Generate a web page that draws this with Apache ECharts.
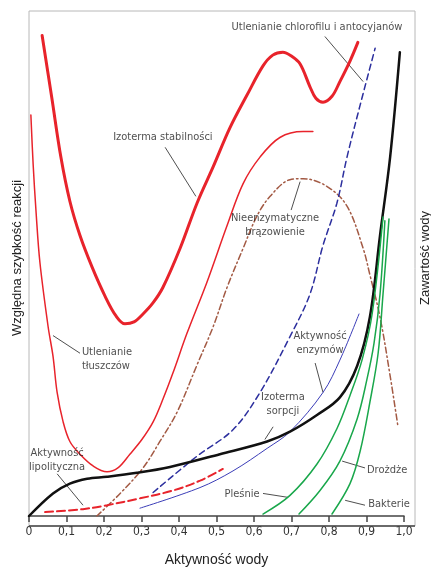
<!DOCTYPE html>
<html><head><meta charset="utf-8">
<script src="https://cdn.jsdelivr.net/npm/echarts@6/dist/echarts.min.js"></script>
<style>html,body{margin:0;padding:0;background:#fff}#c{width:431px;height:572px}</style>
</head><body><div id="c"></div>
<script>
// x: aktywność wody (0..1), y: relative units above the axis (0..515)
const tickLabels = ['0','0,1','0,2','0,3','0,4','0,5','0,6','0,7','0,8','0,9','1,0'];

const chlorophyllOxidation = [[0.035,490],[0.061,426],[0.085,366],[0.109,321],[0.136,286],[0.168,254],[0.203,224],[0.232,204],[0.256,196],[0.280,198],[0.304,206],[0.330,217],[0.357,233],[0.403,273],[0.448,319],[0.491,356],[0.536,396],[0.581,429],[0.624,459],[0.650,470],[0.677,473],[0.700,469],[0.723,461],[0.749,438],[0.765,426],[0.784,422],[0.808,428],[0.829,443],[0.856,464],[0.877,483]];
const fatOxidation = [[0.005,409],[0.011,359],[0.019,309],[0.029,259],[0.051,193],[0.064,163],[0.075,126],[0.091,96],[0.109,76],[0.136,63],[0.171,51],[0.208,45],[0.237,49],[0.269,63],[0.301,78],[0.331,96],[0.357,119],[0.384,146],[0.421,186],[0.475,239],[0.528,296],[0.571,339],[0.616,366],[0.669,386],[0.731,392],[0.757,392]];
const nonEnzymaticBrowning = [[0.181,0],[0.243,23],[0.304,49],[0.349,76],[0.395,106],[0.448,154],[0.491,193],[0.528,233],[0.571,273],[0.608,306],[0.643,326],[0.696,343],[0.731,344],[0.795,336],[0.848,316],[0.891,273],[0.909,246],[0.936,203],[0.963,143],[0.984,91]];
const enzymeActivityDashed = [[0.331,24],[0.448,61],[0.544,88],[0.616,126],[0.696,183],[0.749,226],[0.784,276],[0.821,319],[0.848,366],[0.883,419],[0.923,477]];
const enzymeActivity = [[0.296,8],[0.456,29],[0.544,46],[0.635,69],[0.696,86],[0.784,126],[0.829,159],[0.880,206]];
const lipolyticActivity = [[0.043,4],[0.144,7],[0.208,11],[0.296,18],[0.384,26],[0.456,36],[0.517,48]];
const sorptionIsotherm = [[0,0],[0.064,23],[0.109,33],[0.155,38],[0.208,40],[0.288,44],[0.376,50],[0.509,63],[0.635,76],[0.696,86],[0.768,103],[0.829,121],[0.875,153],[0.909,203],[0.936,286],[0.963,366],[0.989,473]];
const molds = [[0.624,2],[0.696,21],[0.768,53],[0.821,89],[0.856,123],[0.888,159],[0.915,206],[0.944,305]];
const yeasts = [[0.72,2],[0.776,26],[0.829,56],[0.875,99],[0.901,139],[0.92,176],[0.936,226],[0.949,301]];
const bacteria = [[0.808,2],[0.856,33],[0.883,66],[0.909,116],[0.931,166],[0.944,226],[0.96,303]];

// annotation labels and leader lines (data coordinates)
const labelTexts = ['Utlenianie chlorofilu i antocyjanów','Izoterma stabilności','Nieenzymatyczne\nbrązowienie','Utlenianie\ntłuszczów','Aktywność\nenzymów','Izoterma\nsorpcji','Aktywność\nlipolityczna','Pleśnie','Drożdże','Bakterie'];
const labelPos = [[0.768,499],[0.357,386],[0.656,297],[0.141,160],[0.776,176],[0.677,114],[0.075,57],[0.568,22],[0.955,47],[0.96,12]];
const labelAlign = ['center','center','center','left','center','center','center','center','center','center'];
const leaders = [
  [[0.789,489],[0.891,443]],
  [[0.363,376],[0.445,326]],
  [[0.723,341],[0.699,312]],
  [[0.064,184],[0.136,166]],
  [[0.763,156],[0.784,126]],
  [[0.651,91],[0.629,78]],
  [[0.075,43],[0.144,11]],
  [[0.624,23],[0.691,19]],
  [[0.835,56],[0.896,49]],
  [[0.843,16],[0.896,11]]
];

const FONT = "'Liberation Sans Narrow','DejaVu Sans Condensed',sans-serif";
const RED = '#e8232b', BROWN = '#a35a44', BLUE = '#2c2f9e', GREEN = '#19a74b';

function line(name, data, color, width, type, smooth) {
  return {name, type:'line', data, smooth: smooth==null?0.35:smooth, symbol:'none', silent:true,
    lineStyle:{color, width, type: type||'solid', cap:'round'}, z:3};
}

const series = [
  line('chlorophyll', chlorophyllOxidation, RED, 3),
  line('fat', fatOxidation, RED, 1.5),
  line('browning', nonEnzymaticBrowning, BROWN, 1.5, [6,3,1.5,3]),
  line('enzymeDashed', enzymeActivityDashed, BLUE, 1.5, [6,4]),
  line('enzyme', enzymeActivity, '#3b3db8', 1),
  line('lipolytic', lipolyticActivity, RED, 2, [8,4]),
  line('sorption', sorptionIsotherm, '#111', 2.5),
  line('molds', molds, GREEN, 1.5),
  line('yeasts', yeasts, GREEN, 1.5),
  line('bacteria', bacteria, GREEN, 1.5)
];
leaders.forEach((d,i)=>series.push({type:'line', data:d, symbol:'none', silent:true, smooth:false,
  lineStyle:{color:'#222', width:0.8}, z:2}));
series.push({type:'scatter', symbolSize:0, silent:true, z:5,
  data: labelTexts.map((t,i)=>({name:t, value:labelPos[i],
    label:{show:true, position:'inside', formatter:'{b}', align:labelAlign[i], verticalAlign:'middle',
      color:'#222', fontFamily:FONT, fontSize:11, lineHeight:14}}))});

const chart = echarts.init(document.getElementById('c'), null, {renderer:'canvas'});
chart.setOption({
  animation:false,
  backgroundColor:'#fff',
  grid:{left:29, top:11, width:375, height:515},
  xAxis:{type:'value', min:0, max:1, interval:0.1,
    name:'Aktywność wody', nameLocation:'middle', nameGap:37,
    nameTextStyle:{fontFamily:'Liberation Sans, Arial, sans-serif', fontSize:14, color:'#222'},
    axisLine:{show:true, lineStyle:{color:'#444', width:1.5}},
    axisTick:{show:true, length:6, lineStyle:{color:'#444', width:1.5}},
    axisLabel:{margin:10, fontFamily:FONT, fontSize:12, color:'#333',
      formatter:v=>tickLabels[Math.round(v*10)]||''},
    splitLine:{show:false}},
  yAxis:{type:'value', min:0, max:515, show:false},
  graphic:[
    {type:'rect', shape:{x:29, y:11, width:386, height:515}, style:{fill:'none', stroke:'#b8b8b8', lineWidth:1}, z:0, silent:true},
    {type:'line', shape:{x1:29, y1:526, x2:415, y2:526}, style:{stroke:'#444', lineWidth:1.5}, z:1, silent:true},
    {type:'text', x:17, y:258, rotation:Math.PI/2, style:{text:'Względna szybkość reakcji', fontFamily:'Liberation Sans, Arial, sans-serif', fontSize:13, fill:'#222', align:'center', verticalAlign:'middle'}},
    {type:'text', x:425, y:258, rotation:Math.PI/2, style:{text:'Zawartość wody', fontFamily:'Liberation Sans, Arial, sans-serif', fontSize:13, fill:'#222', align:'center', verticalAlign:'middle'}}
  ],
  series
});
</script></body></html>
